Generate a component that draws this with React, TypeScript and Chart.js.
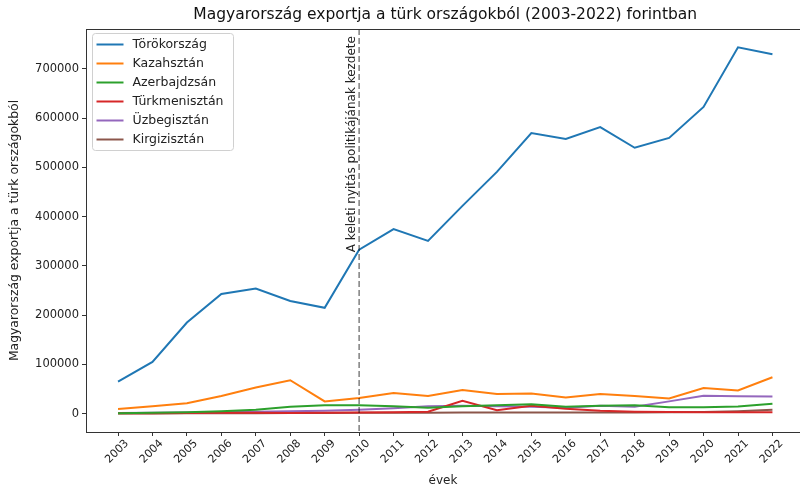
import React, { useEffect, useRef } from "react";
import { Chart, registerables } from "chart.js";

Chart.register(...registerables);

const years = [2003, 2004, 2005, 2006, 2007, 2008, 2009, 2010, 2011, 2012, 2013, 2014, 2015, 2016, 2017, 2018, 2019, 2020, 2021, 2022];

const torokorszag = [65000, 105000, 185000, 243000, 254000, 229000, 215000, 333000, 375000, 351000, 422000, 491000, 570000, 558000, 582000, 540000, 560000, 623000, 744000, 730000];
const kazahsztan = [9500, 15000, 21000, 36000, 53000, 68000, 25000, 32000, 42000, 36000, 48000, 40000, 41000, 33000, 40000, 36000, 31000, 52000, 47000, 74000];
const azerbajdzsan = [1000, 2000, 3000, 5000, 8000, 14000, 17000, 17000, 15000, 12000, 15000, 17000, 19000, 14000, 16000, 17000, 13000, 13000, 14500, 20000];
const turkmenisztan = [1000, 1000, 1500, 2000, 2000, 1500, 2000, 2500, 3000, 4000, 26000, 7000, 16000, 10000, 6000, 4000, 3500, 3000, 3000, 3000];
const uzbegisztan = [1500, 2000, 2500, 3000, 4000, 5000, 6000, 8000, 11000, 15000, 16000, 15000, 14000, 12000, 16000, 14000, 25000, 36500, 35500, 35000];
const kirgizisztan = [500, 500, 800, 1000, 1000, 1200, 1500, 2000, 2000, 2000, 2500, 2500, 2500, 2500, 2500, 2500, 3000, 3500, 5000, 8000];

const seriesNames = ["Törökország", "Kazahsztán", "Azerbajdzsán", "Türkmenisztán", "Üzbegisztán", "Kirgizisztán"];
const seriesValues = [torokorszag, kazahsztan, azerbajdzsan, turkmenisztan, uzbegisztan, kirgizisztan];
const seriesColors = ["#1f77b4", "#ff7f0e", "#2ca02c", "#d62728", "#9467bd", "#8c564b"];

const yTicks = [0, 100000, 200000, 300000, 400000, 500000, 600000, 700000];
const markerYear = 2010;
const markerText = "A keleti nyitás politikájának kezdete";
const markerTextValue = 328000;

const titleText = "Magyarország exportja a türk országokból (2003-2022) forintban";
const yTitle = "Magyarország exportja a türk országokból";
const xTitle = "évek";

const FONT = "'DejaVu Sans', sans-serif";

const framePlugin = {
  id: "frame",
  afterDatasetsDraw(chart: any) {
    const { ctx, chartArea } = chart;
    const { left, top, right, bottom } = chartArea;
    const xs = chart.scales.x;
    const ys = chart.scales.y;
    const px = xs.getPixelForValue(markerYear);

    // title, centred over the (uncropped) axes
    ctx.save();
    const axesCenter = (xs.getPixelForValue(2002.05) + xs.getPixelForValue(2022.95)) / 2;
    ctx.fillStyle = "#111";
    ctx.font = `15.5px ${FONT}`;
    ctx.textAlign = "center";
    ctx.textBaseline = "middle";
    ctx.fillText(titleText, axesCenter, 15);
    ctx.restore();

    ctx.save();
    ctx.strokeStyle = "rgba(0,0,0,0.5)";
    ctx.lineWidth = 1.5;
    ctx.setLineDash([6, 3]);
    ctx.beginPath();
    ctx.moveTo(px, top);
    ctx.lineTo(px, bottom);
    ctx.stroke();
    ctx.setLineDash([]);
    ctx.translate(px - 7, ys.getPixelForValue(markerTextValue));
    ctx.rotate(-Math.PI / 2);
    ctx.fillStyle = "#222";
    ctx.font = `12px ${FONT}`;
    ctx.textAlign = "left";
    ctx.textBaseline = "middle";
    ctx.fillText(markerText, 0, 0);
    ctx.restore();

    // legend
    ctx.save();
    const x0 = left + 6.5;
    const y0 = top + 4.5;
    const w = 141;
    const h = 117;
    const r = 3;
    ctx.fillStyle = "rgba(255,255,255,0.85)";
    ctx.strokeStyle = "#d0d0d0";
    ctx.lineWidth = 1;
    ctx.beginPath();
    ctx.moveTo(x0 + r, y0);
    ctx.lineTo(x0 + w - r, y0);
    ctx.arcTo(x0 + w, y0, x0 + w, y0 + r, r);
    ctx.lineTo(x0 + w, y0 + h - r);
    ctx.arcTo(x0 + w, y0 + h, x0 + w - r, y0 + h, r);
    ctx.lineTo(x0 + r, y0 + h);
    ctx.arcTo(x0, y0 + h, x0, y0 + h - r, r);
    ctx.lineTo(x0, y0 + r);
    ctx.arcTo(x0, y0, x0 + r, y0, r);
    ctx.closePath();
    ctx.fill();
    ctx.stroke();
    ctx.font = `12.5px ${FONT}`;
    ctx.textAlign = "left";
    ctx.textBaseline = "middle";
    chart.data.datasets.forEach((ds: any, i: number) => {
      const y = y0 + 11 + i * 19;
      ctx.strokeStyle = ds.borderColor;
      ctx.lineWidth = 2;
      ctx.beginPath();
      ctx.moveTo(x0 + 4, y);
      ctx.lineTo(x0 + 31, y);
      ctx.stroke();
      ctx.fillStyle = "#222";
      ctx.fillText(ds.label, x0 + 40, y);
    });
    ctx.restore();

    // frame
    ctx.save();
    ctx.strokeStyle = "#333";
    ctx.lineWidth = 1;
    ctx.strokeRect(Math.round(left) + 0.5, Math.round(top) + 0.5, Math.round(right - left), Math.round(bottom - top));
    ctx.restore();
  },
};

export default function App() {
  const ref = useRef<HTMLCanvasElement | null>(null);

  useEffect(() => {
    document.body.style.margin = "0";
    const canvas = ref.current;
    if (!canvas) return;
    const chart = new Chart(canvas, {
      type: "line",
      data: {
        datasets: seriesNames.map((name, i) => ({
          label: name,
          data: years.map((yr, j) => ({ x: yr, y: seriesValues[i][j] })),
          borderColor: seriesColors[i],
          backgroundColor: seriesColors[i],
          borderWidth: 2,
          pointRadius: 0,
          tension: 0,
          fill: false,
        })),
      },
      options: {
        animation: false,
        responsive: false,
        devicePixelRatio: 1,
        layout: { padding: { left: 0, right: 0, top: 29, bottom: 0 } },
        plugins: {
          legend: { display: false },
          tooltip: { enabled: false },
          title: { display: false },
        },
        scales: {
          x: {
            type: "linear",
            min: 2002.07,
            max: 2022.8,
            afterBuildTicks: (scale: any) => {
              scale.ticks = years.map((v) => ({ value: v }));
            },
            afterFit: (scale: any) => {
              scale.height = 59;
            },
            grid: { display: true, drawOnChartArea: false, drawTicks: true, tickLength: 4, color: "#333" },
            border: { display: true, color: "#333" },
            ticks: {
              autoSkip: false,
              minRotation: 45,
              maxRotation: 45,
              labelOffset: 9,
              padding: 1,
              color: "#222",
              font: { family: FONT, size: 11 },
              callback: (v: any) => String(v),
            },
            title: {
              display: true,
              text: xTitle,
              color: "#222",
              font: { family: FONT, size: 12 },
              padding: { top: 0, bottom: 3 },
            },
          },
          y: {
            type: "linear",
            min: -37200,
            max: 781200,
            afterBuildTicks: (scale: any) => {
              scale.ticks = yTicks.map((v) => ({ value: v }));
            },
            afterFit: (scale: any) => {
              scale.width = 86;
            },
            grid: { display: true, drawOnChartArea: false, drawTicks: true, tickLength: 4, color: "#333" },
            border: { display: true, color: "#333" },
            ticks: {
              padding: 3,
              color: "#222",
              font: { family: FONT, size: 11.5 },
              callback: (v: any) => String(v),
            },
            title: {
              display: true,
              text: yTitle,
              color: "#222",
              font: { family: FONT, size: 12.4 },
              padding: { top: 7, bottom: 0 },
            },
          },
        },
      },
      plugins: [framePlugin],
    } as any);
    return () => chart.destroy();
  }, []);

  return (
    <div style={{ position: "absolute", left: 0, top: 0, width: 800, height: 491 }}>
      <canvas ref={ref} width={800} height={491} style={{ display: "block" }} />
    </div>
  );
}
